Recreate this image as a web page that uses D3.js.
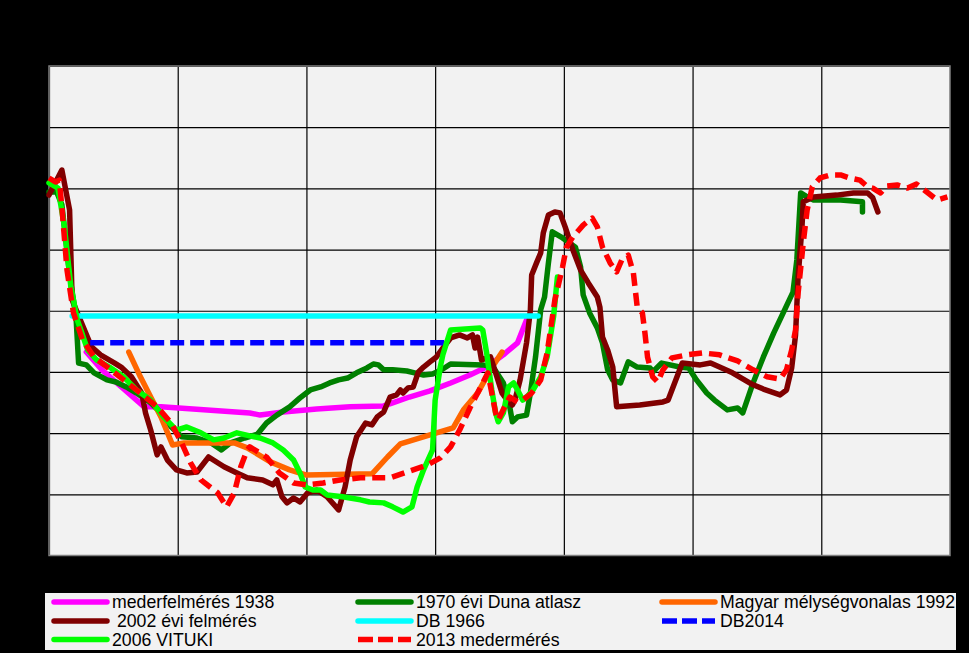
<!DOCTYPE html>
<html><head><meta charset="utf-8">
<script src="https://cdn.jsdelivr.net/npm/d3@7"></script>
<style>body{margin:0;background:#000;}svg{display:block;}</style>
</head><body>
<svg id="chart" width="969" height="653"></svg>
<script>
// ---- data ----
const xTicks = [0,100,200,300,400,500,600,700];
const yTicks = [88,90,92,94,96,98,100,102,104];

const seriesNames = ["mederfelmérés 1938","1970 évi Duna atlasz","Magyar mélységvonalas 1992"," 2002 évi felmérés","DB 1966","DB2014","2006 VITUKI","2013 medermérés"];

const s1938 = [[29,94.65],[41,94.07],[74,92.86],[87,92.86],[156,92.66],[164,92.59],[182,92.69],[208,92.79],[234,92.86],[260,92.89],[267,92.99],[280,93.18],[296,93.38],[312,93.64],[327,93.90],[340,94.16],[353,94.56],[364,94.95],[371,95.70],[374,95.86]];

const s1970 = [[0,99.88],[6,99.88],[10,99.46],[16,97.17],[21,95.80],[23,94.29],[29,94.23],[35,93.97],[45,93.74],[52,93.67],[60,93.51],[68,93.31],[79,92.99],[87,92.66],[95,92.20],[103,91.88],[115,91.84],[126,91.68],[134,91.45],[141,91.68],[152,91.84],[162,91.97],[169,92.33],[177,92.59],[187,92.86],[195,93.15],[203,93.41],[211,93.51],[218,93.64],[225,93.74],[232,93.80],[239,93.97],[247,94.13],[252,94.26],[256,94.23],[260,94.07],[267,94.07],[278,94.03],[284,93.97],[291,93.90],[298,93.93],[305,94.07],[312,94.26],[337,94.23],[345,94.16],[353,93.64],[357,93.08],[360,92.37],[364,92.53],[371,92.59],[374,93.31],[378,94.49],[382,96.03],[385,96.45],[388,97.56],[391,98.58],[399,98.38],[409,98.08],[413,97.43],[415,96.52],[420,95.93],[426,95.44],[430,94.95],[434,94.07],[438,93.74],[444,93.64],[450,94.33],[457,94.16],[467,94.13],[469,94.00],[476,94.29],[490,94.16],[497,94.13],[503,93.74],[511,93.31],[517,93.08],[527,92.76],[535,92.82],[539,92.66],[547,93.64],[555,94.49],[563,95.27],[578,96.61],[581,97.66],[584,99.85],[589,99.72],[594,99.62],[615,99.62],[632,99.56],[632,99.23]];

const s1992 = [[62,94.65],[71,93.84],[79,93.18],[87,92.53],[96,91.61],[105,91.68],[144,91.68],[154,91.52],[172,91.06],[187,90.80],[200,90.63],[251,90.67],[263,91.22],[273,91.65],[296,91.94],[314,92.17],[322,92.76],[333,93.31],[343,94.07],[352,94.65]];

const s2002 = [[0,99.78],[10,100.60],[16,99.29],[18,96.35],[22,95.93],[33,94.82],[40,94.56],[51,94.29],[56,94.16],[64,93.84],[72,93.31],[75,92.66],[79,92.10],[84,91.29],[87,91.55],[92,91.12],[99,90.80],[107,90.70],[115,90.73],[124,91.22],[136,90.90],[146,90.70],[154,90.54],[166,90.47],[174,90.31],[177,90.47],[181,89.92],[185,89.72],[190,89.88],[195,89.75],[201,90.05],[208,90.14],[216,89.92],[225,89.49],[230,90.24],[234,91.12],[239,91.88],[246,92.33],[251,92.27],[255,92.53],[260,92.69],[265,93.18],[270,93.25],[273,93.41],[275,93.31],[279,93.48],[283,93.51],[287,94.00],[291,94.16],[296,94.33],[301,94.49],[306,94.78],[312,95.11],[319,95.21],[325,95.11],[329,95.21],[331,94.78],[333,95.14],[336,94.39],[343,94.49],[348,93.84],[352,93.31],[356,93.08],[360,92.92],[362,93.08],[366,93.74],[371,94.95],[374,96.03],[375,97.17],[379,97.59],[382,97.89],[384,98.54],[388,99.13],[393,99.23],[397,99.20],[401,98.74],[407,97.99],[413,97.33],[419,96.91],[426,96.45],[428,96.12],[430,95.14],[434,94.72],[438,94.16],[441,92.86],[459,92.92],[477,93.02],[481,93.08],[492,94.29],[506,94.23],[514,94.29],[531,93.97],[547,93.58],[555,93.44],[568,93.25],[573,93.41],[577,94.13],[580,95.21],[582,97.10],[585,98.74],[586,99.56],[594,99.72],[612,99.78],[625,99.85],[636,99.85],[640,99.69],[644,99.23]];

const sDB1966 = [[18,95.83],[380,95.83]];
const sDB2014 = [[32,94.95],[309,94.95]];

const s2006 = [[0,100.18],[7,100.01],[12,98.74],[17,96.78],[22,95.70],[30,94.72],[37,94.39],[48,94.13],[58,93.84],[68,93.41],[79,93.08],[89,92.53],[99,92.10],[107,92.20],[118,92.01],[128,91.78],[136,91.84],[146,92.01],[156,91.91],[164,91.84],[174,91.68],[182,91.45],[190,91.12],[195,90.70],[199,90.24],[205,90.14],[211,90.14],[216,89.98],[228,89.92],[242,89.82],[249,89.75],[260,89.72],[267,89.59],[275,89.42],[282,89.59],[286,90.24],[291,90.80],[298,91.45],[300,93.08],[304,94.16],[306,94.56],[312,95.37],[335,95.44],[337,95.37],[340,94.62],[344,93.41],[347,92.66],[349,92.37],[353,92.66],[357,93.51],[361,93.64],[364,93.41],[368,93.08],[371,93.18],[376,93.41],[382,93.84],[387,94.49],[392,95.80],[395,97.10]];

const s2013 = [[0,100.34],[5,100.21],[8,100.27],[10,99.39],[14,97.33],[19,95.93],[26,95.05],[35,94.49],[48,94.07],[58,93.74],[71,93.31],[84,92.86],[95,92.33],[103,91.68],[110,91.03],[118,90.47],[131,90.05],[138,89.59],[144,90.05],[149,90.90],[154,91.45],[156,91.55],[169,91.22],[179,90.70],[190,90.37],[200,90.31],[213,90.37],[226,90.47],[242,90.54],[255,90.54],[265,90.54],[278,90.73],[294,90.96],[304,91.19],[312,91.55],[319,92.10],[327,92.82],[337,93.64],[341,93.97],[344,93.31],[347,92.66],[349,92.43],[354,92.86],[358,93.18],[364,93.02],[368,93.08],[375,93.31],[382,93.74],[387,94.62],[393,96.35],[399,97.43],[402,98.08],[407,98.41],[415,98.80],[422,99.03],[426,98.74],[430,98.08],[436,97.56],[441,97.27],[445,97.66],[450,97.82],[454,97.24],[457,96.12],[461,95.93],[463,95.27],[465,94.49],[469,93.84],[473,93.67],[477,94.07],[484,94.46],[496,94.56],[508,94.62],[521,94.56],[535,94.36],[547,94.07],[558,93.84],[568,93.77],[573,94.07],[577,94.72],[580,95.37],[582,96.58],[586,98.22],[589,99.29],[593,100.05],[599,100.34],[607,100.44],[615,100.44],[622,100.34],[630,100.27],[636,100.05],[640,100.01],[646,99.85],[651,100.08],[659,100.11],[667,100.01],[674,100.14],[682,99.88],[690,99.62],[698,99.72]];

const seriesData = [s1938, s1970, s1992, s2002, sDB1966, sDB2014, s2006, s2013];
const seriesColors = ["#ff00ff","#008000","#ff6600","#800000","#00ffff","#0000ff","#00ff00","#ff0000"];
const seriesDash = [null,null,null,null,null,"14,6",null,"13,7"];

// ---- layout ----
const svg = d3.select("#chart");
const W = 969, H = 653;
const plot = {left:49, top:66, right:950, bottom:555.5};

const x = d3.scaleLinear().domain([0,700]).range([plot.left, plot.right]);
const y = d3.scaleLinear().domain([88,104]).range([plot.bottom, plot.top]);

svg.append("rect").attr("width",W).attr("height",H).attr("fill","#000");

svg.append("rect")
  .attr("x",plot.left).attr("y",plot.top)
  .attr("width",plot.right-plot.left).attr("height",plot.bottom-plot.top)
  .attr("fill","#f2f2f2");

// gridlines via axes
const gx = svg.append("g").attr("transform",`translate(0,${plot.bottom})`)
  .call(d3.axisBottom(x).tickValues(xTicks).tickSize(-(plot.bottom-plot.top)).tickFormat(""));
const gy = svg.append("g").attr("transform",`translate(${plot.left},0)`)
  .call(d3.axisLeft(y).tickValues(yTicks).tickSize(-(plot.right-plot.left)).tickFormat(""));
[gx,gy].forEach(g=>{
  g.select(".domain").remove();
  g.selectAll(".tick line").attr("stroke","#000").attr("stroke-width",1.2);
});

// plot border
svg.append("rect")
  .attr("x",plot.left).attr("y",plot.top)
  .attr("width",plot.right-plot.left).attr("height",plot.bottom-plot.top)
  .attr("fill","none").attr("stroke","#808080").attr("stroke-width",1.5);

const line = d3.line().x(d=>x(d[0])).y(d=>y(d[1]));

svg.append("clipPath").attr("id","pc").append("rect")
  .attr("x",plot.left-3).attr("y",plot.top).attr("width",plot.right-plot.left+3).attr("height",plot.bottom-plot.top);

const lines = svg.append("g").attr("clip-path","url(#pc)");
seriesData.forEach((d,i)=>{
  lines.append("path").datum(d)
    .attr("d",line)
    .attr("fill","none")
    .attr("stroke",seriesColors[i])
    .attr("stroke-width",5.5)
    .attr("stroke-linejoin","round")
    .attr("stroke-linecap", seriesDash[i] ? "butt" : "round")
    .attr("stroke-dasharray",seriesDash[i]);
});

// ---- legend ----
const lg = svg.append("g");
lg.append("rect").attr("x",45).attr("y",593).attr("width",911).attr("height",57).attr("fill","#f2f2f2");
const colX = [52,356,660];
const rowY = [602,621,639.5];
seriesNames.forEach((name,i)=>{
  const cx = colX[i%3], cy = rowY[Math.floor(i/3)];
  lg.append("line")
    .attr("x1",cx+2).attr("x2",cx+55).attr("y1",cy).attr("y2",cy)
    .attr("stroke",seriesColors[i]).attr("stroke-width",5.5)
    .attr("stroke-linecap", seriesDash[i] ? "butt" : "round")
    .attr("stroke-dasharray", seriesDash[i] ? "15,5" : null);
  lg.append("text")
    .attr("x",cx+60).attr("y",cy)
    .attr("dy","0.36em")
    .attr("font-family","Arial, 'Liberation Sans', sans-serif")
    .attr("font-size",17.7)
    .attr("fill","#000")
    .attr("xml:space","preserve")
    .style("white-space","pre")
    .text(name);
});
</script>
</body></html>
